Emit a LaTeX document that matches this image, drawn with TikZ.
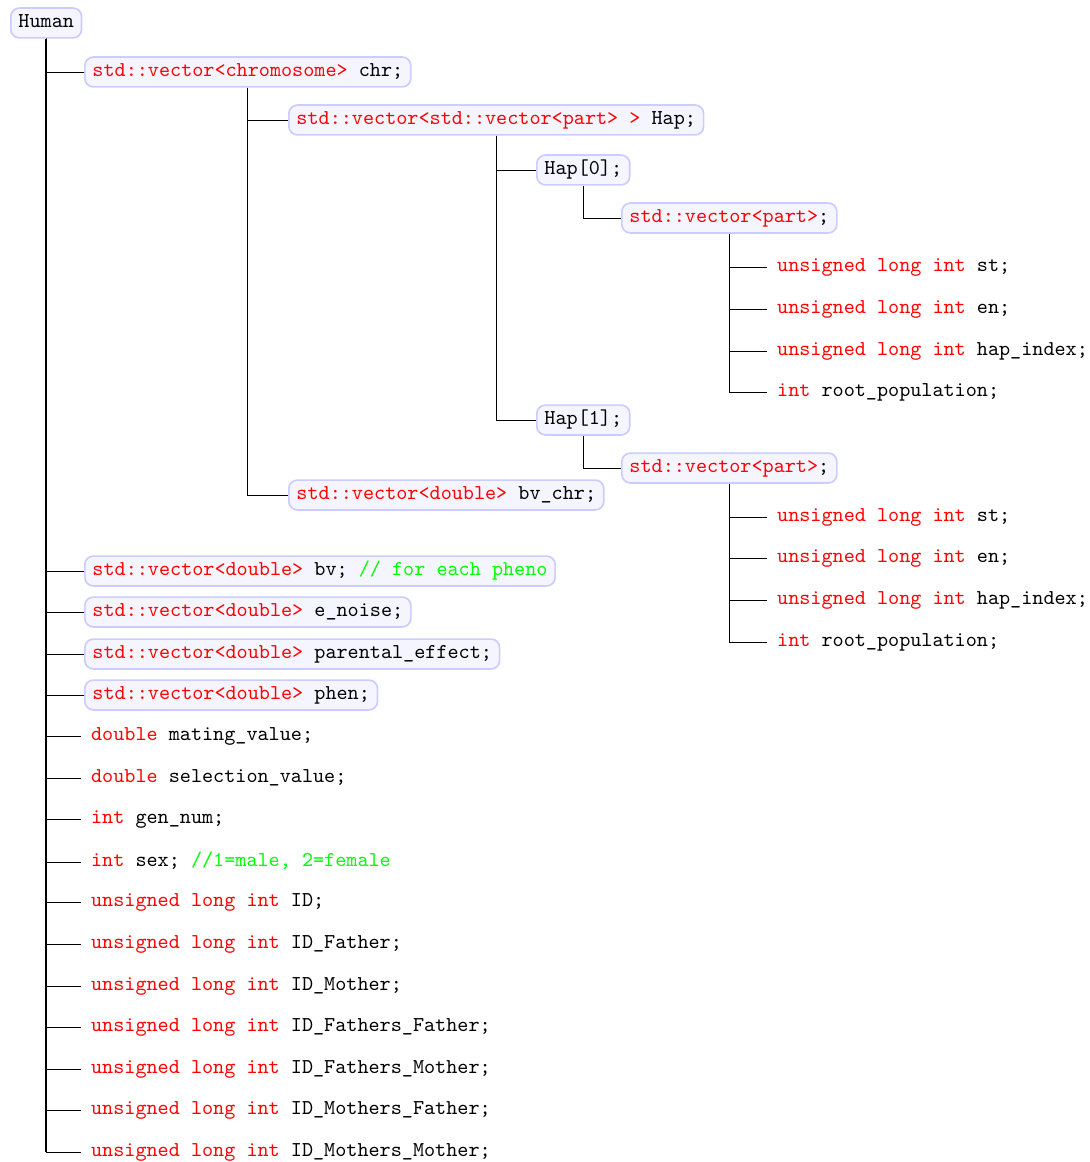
\documentclass[tikz,border=0pt]{standalone}
\usepackage{fontspec}
\setmonofont{Latin Modern Mono}
\begin{document}
\begin{tikzpicture}[x=0.473pt,y=-0.473pt]
\tikzset{
  box/.style={draw=blue!20, fill=blue!4, rounded corners=4pt, thick, anchor=west,
    inner xsep=3.6pt, inner ysep=3.2pt, text height=6pt, text depth=1.7pt, font=\ttfamily},
  leaf/.style={anchor=west, inner xsep=4.6pt, inner ysep=3.2pt, text height=6pt, text depth=1.7pt, font=\ttfamily},
  trunk/.style={draw=black, line width=0.9pt},
  branch/.style={draw=black, line width=0.45pt},
}
\useasboundingbox (0,-2) rectangle (1089,1160);
\newcommand{\rd}[1]{\textcolor{red}{#1}}
\newcommand{\gr}[1]{\textcolor{green}{#1}}

\node[box] (human) at (10,21) {Human};
\node[box] (chr) at (84,70) {\rd{std::vector<chromosome>} chr;};
\node[box] (hap) at (288,118) {\rd{std::vector<std::vector<part> >} Hap;};
\node[box] (hapa) at (536,168) {Hap[0];};
\node[box] (veca) at (621,216) {\rd{std::vector<part>};};
\node[leaf] (sta) at (767,265) {\rd{unsigned long int} st;};
\node[leaf] (ena) at (767,307) {\rd{unsigned long int} en;};
\node[leaf] (hia) at (767,349) {\rd{unsigned long int} hap\_index;};
\node[leaf] (rpa) at (767,390) {\rd{int} root\_population;};
\node[box] (hapb) at (536,418) {Hap[1];};
\node[box] (vecb) at (621,466) {\rd{std::vector<part>};};
\node[leaf] (stb) at (767,515) {\rd{unsigned long int} st;};
\node[leaf] (enb) at (767,556) {\rd{unsigned long int} en;};
\node[leaf] (hib) at (767,598) {\rd{unsigned long int} hap\_index;};
\node[leaf] (rpb) at (767,640) {\rd{int} root\_population;};
\node[box] (bvchr) at (288,493) {\rd{std::vector<double>} bv\_chr;};

\node[box] (bv) at (84,569) {\rd{std::vector<double>} bv; \gr{// for each pheno}};
\node[box] (en) at (84,610) {\rd{std::vector<double>} e\_noise;};
\node[box] (pe) at (84,652) {\rd{std::vector<double>} parental\_effect;};
\node[box] (ph) at (84,693) {\rd{std::vector<double>} phen;};
\node[leaf] (mv) at (81,734) {\rd{double} mating\_value;};
\node[leaf] (sv) at (81,776) {\rd{double} selection\_value;};
\node[leaf] (gn) at (81,817) {\rd{int} gen\_num;};
\node[leaf] (sx) at (81,860) {\rd{int} sex; \gr{//1=male, 2=female}};
\node[leaf] (id) at (81,900) {\rd{unsigned long int} ID;};
\node[leaf] (idf) at (81,942) {\rd{unsigned long int} ID\_Father;};
\node[leaf] (idm) at (81,984) {\rd{unsigned long int} ID\_Mother;};
\node[leaf] (idff) at (81,1025) {\rd{unsigned long int} ID\_Fathers\_Father;};
\node[leaf] (idfm) at (81,1067) {\rd{unsigned long int} ID\_Fathers\_Mother;};
\node[leaf] (idmf) at (81,1108) {\rd{unsigned long int} ID\_Mothers\_Father;};
\node[leaf] (idmm) at (81,1150) {\rd{unsigned long int} ID\_Mothers\_Mother;};

% connectors
\path[trunk] (human.south) -- (human.south |- idmm.west);
\foreach \c in {chr,bv,en,pe,ph,mv,sv,gn,sx,id,idf,idm,idff,idfm,idmf,idmm}
  \path[branch] (human.south) |- (\c.west);
\foreach \c in {hap,bvchr}
  \path[branch] (chr.south) |- (\c.west);
\foreach \c in {hapa,hapb}
  \path[branch] (hap.south) |- (\c.west);
\path[branch] (hapa.south) |- (veca.west);
\path[branch] (hapb.south) |- (vecb.west);
\foreach \c in {sta,ena,hia,rpa}
  \path[branch] (veca.south) |- (\c.west);
\foreach \c in {stb,enb,hib,rpb}
  \path[branch] (vecb.south) |- (\c.west);
\end{tikzpicture}
\end{document}
